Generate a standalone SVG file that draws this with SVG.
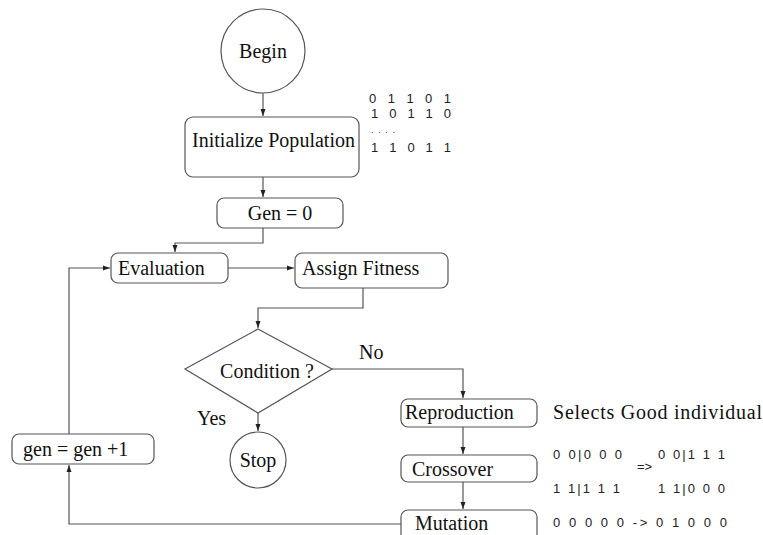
<svg xmlns="http://www.w3.org/2000/svg" width="763" height="535" viewBox="0 0 763 535">
<defs>
<marker id="ah" markerWidth="8" markerHeight="8" refX="7" refY="4" orient="auto" markerUnits="userSpaceOnUse">
<path d="M0,1.5 L7,4 L0,6.5 Z" fill="#222"/>
</marker>
<style>
.box{fill:#fff;stroke:#555;stroke-width:1.2}
.lbl{font-family:"Liberation Serif","Times New Roman",serif;font-size:20px;fill:#111}
.bin{font-family:"Liberation Sans",Arial,sans-serif;font-size:13px;fill:#222}
.ln{fill:none;stroke:#555;stroke-width:1.2}
</style>
</defs>
<rect width="763" height="535" fill="#fff"/>
<g id="connectors">
<path class="ln" d="M263,93 L263,116" marker-end="url(#ah)"/>
<path class="ln" d="M263,177 L263,197" marker-end="url(#ah)"/>
<path class="ln" d="M263,228 L263,243 L175,243 L175,252" marker-end="url(#ah)"/>
<path class="ln" d="M228,268 L294,268" marker-end="url(#ah)"/>
<path class="ln" d="M363,288 L363,308 L258,308 L258,328" marker-end="url(#ah)"/>
<path class="ln" d="M332,369 L463,369 L463,398" marker-end="url(#ah)"/>
<path class="ln" d="M258,413 L258,431" marker-end="url(#ah)"/>
<path class="ln" d="M463,427 L463,454" marker-end="url(#ah)"/>
<path class="ln" d="M463,482 L463,509" marker-end="url(#ah)"/>
<path class="ln" d="M401,524 L69,524 L69,465" marker-end="url(#ah)"/>
<path class="ln" d="M69,434 L69,268 L110,268" marker-end="url(#ah)"/>
</g>
<g id="begin">
<circle cx="263" cy="51" r="42" class="box"/>
<text x="263" y="58" class="lbl" text-anchor="middle">Begin</text>
</g>
<g id="init">
<rect x="185" y="117" width="174" height="60" rx="8" class="box"/>
<text x="192" y="147" class="lbl" textLength="163">Initialize Population</text>
</g>
<g id="population">
<text x="369" y="103" class="bin" textLength="82">0 1 1 0 1</text>
<text x="371" y="118" class="bin" textLength="80">1 0 1 1 0</text>
<text x="371" y="133" class="bin" style="font-size:9px" textLength="24">....</text>
<text x="371" y="152" class="bin" textLength="80">1 1 0 1 1</text>
</g>
<g id="gen0">
<rect x="217" y="198" width="126" height="30" rx="7" class="box"/>
<text x="280" y="220" class="lbl" text-anchor="middle">Gen = 0</text>
</g>
<g id="evaluation">
<rect x="111" y="253" width="117" height="30" rx="7" class="box"/>
<text x="118" y="275" class="lbl">Evaluation</text>
</g>
<g id="fitness">
<rect x="295" y="253" width="153" height="35" rx="7" class="box"/>
<text x="302" y="275" class="lbl">Assign Fitness</text>
</g>
<g id="condition">
<polygon points="258,329 332,369 258,413 185,369" class="box"/>
<text x="267" y="378" class="lbl" text-anchor="middle">Condition ?</text>
<text x="359" y="359" class="lbl">No</text>
<text x="197" y="425" class="lbl">Yes</text>
</g>
<g id="stop">
<circle cx="258" cy="460" r="28" class="box"/>
<text x="258" y="467" class="lbl" text-anchor="middle">Stop</text>
</g>
<g id="reproduction">
<rect x="401" y="399" width="136" height="28" rx="7" class="box"/>
<text x="405" y="419" class="lbl">Reproduction</text>
<text x="553" y="419" class="lbl" textLength="209">Selects  Good individual</text>
</g>
<g id="crossover">
<rect x="401" y="455" width="136" height="27" rx="7" class="box"/>
<text x="412" y="476" class="lbl">Crossover</text>
<text x="553" y="459" class="bin" textLength="69">0 0|0 0 0</text>
<text x="658" y="459" class="bin" textLength="67">0 0|1 1 1</text>
<text x="637" y="471" class="bin">=&gt;</text>
<text x="553" y="493" class="bin" textLength="67">1 1|1 1 1</text>
<text x="658" y="493" class="bin" textLength="67">1 1|0 0 0</text>
</g>
<g id="mutation">
<rect x="401" y="510" width="136" height="35" rx="7" class="box"/>
<text x="415" y="530" class="lbl">Mutation</text>
<text x="553" y="527" class="bin" textLength="174">0 0 0 0 0 -&gt; 0 1 0 0 0</text>
</g>
<g id="geninc">
<rect x="12" y="434" width="142" height="30" rx="7" class="box"/>
<text x="23" y="456" class="lbl">gen = gen +1</text>
</g>
</svg>
